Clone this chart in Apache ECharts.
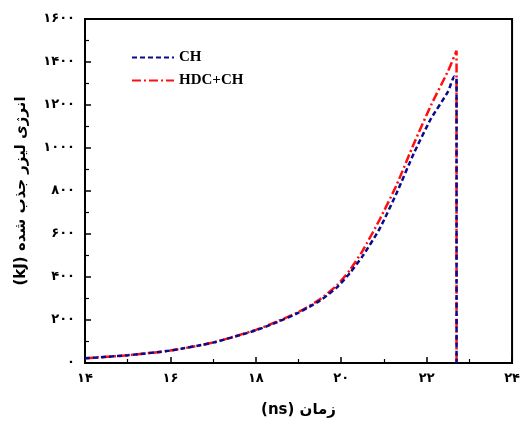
<!DOCTYPE html>
<html><head><meta charset="utf-8">
<script src="https://cdn.jsdelivr.net/npm/echarts@6/dist/echarts.min.js"></script>
<style>html,body{margin:0;padding:0;background:#fff}#c{width:523px;height:428px}</style>
</head><body><div id="c"></div>
<script>
const seriesNames = ['CH', 'HDC+CH'];
const timeCH = [14, 15, 16, 17, 18, 18.5, 19, 19.5, 19.9, 20.2, 20.5, 20.9, 21.3, 21.7, 22.1, 22.5, 22.65, 22.7, 22.7];
const energyCH = [22, 36, 58, 95, 152, 190, 234, 290, 352, 418, 497, 625, 792, 975, 1136, 1262, 1333, 1322, 0];
const timeHDC = [14, 15, 16, 17, 18, 18.5, 19, 19.5, 19.9, 20.2, 20.5, 20.9, 21.3, 21.7, 22.1, 22.5, 22.7, 22.7];
const energyHDC = [22, 36, 58, 95, 154, 193, 237, 296, 362, 432, 522, 667, 830, 1020, 1198, 1358, 1452, 0];
const xTickLabels = {14:'۱۴', 16:'۱۶', 18:'۱۸', 20:'۲۰', 22:'۲۲', 24:'۲۴'};
const yTickLabels = {0:'۰', 200:'۲۰۰', 400:'۴۰۰', 600:'۶۰۰', 800:'۸۰۰', 1000:'۱۰۰۰', 1200:'۱۲۰۰', 1400:'۱۴۰۰', 1600:'۱۶۰۰'};
const xTitle = 'زمان (ns)';
const yTitle = 'انرژی لیزر جذب شده (kJ)';
const rtl = s => '\u202B' + s + '\u202C';

const zip = (a, b) => a.map((v, i) => [v, b[i]]);
const chart = echarts.init(document.getElementById('c'));
const axisCommon = {
  axisLine: {show: true, lineStyle: {color: '#000', width: 2}},
  axisTick: {inside: true, length: 6, lineStyle: {color: '#000', width: 1.5}},
  minorTick: {show: true, splitNumber: 2, length: 4, lineStyle: {color: '#000', width: 1.2}},
  splitLine: {show: false},
  axisLabel: {color: '#000', fontFamily: 'DejaVu Sans', fontWeight: 'bold', fontSize: 13}
};
chart.setOption({
  animation: false,
  grid: {left: 85, right: 8, top: 19, bottom: 65, show: true, borderColor: '#000', borderWidth: 2},
  legend: {
    orient: 'vertical', left: 126, top: 45, itemWidth: 42, itemHeight: 10, itemGap: 8,
    itemStyle: {opacity: 0},
    textStyle: {fontFamily: 'Liberation Serif', fontWeight: 'bold', fontSize: 15, color: '#000'},
    data: seriesNames
  },
  xAxis: Object.assign({}, axisCommon, {
    type: 'value', min: 14, max: 24, interval: 2,
    axisLabel: Object.assign({}, axisCommon.axisLabel, {margin: 9, formatter: v => xTickLabels[v] || ''}),
    name: rtl(xTitle), nameLocation: 'middle', nameGap: 40,
    nameTextStyle: {fontFamily: 'DejaVu Sans', fontWeight: 'bold', fontSize: 15, color: '#000'}
  }),
  yAxis: Object.assign({}, axisCommon, {
    type: 'value', min: 0, max: 1600, interval: 200,
    axisLabel: Object.assign({}, axisCommon.axisLabel, {margin: 10, formatter: v => yTickLabels[v] || ''}),
    name: rtl(yTitle), nameLocation: 'middle', nameGap: 56, nameRotate: 90,
    nameTextStyle: {fontFamily: 'DejaVu Sans', fontWeight: 'bold', fontSize: 15, color: '#000'}
  }),
  series: [
    {name: seriesNames[0], type: 'line', data: zip(timeCH, energyCH), symbol: 'none', smooth: 0.2, z: 3,
     itemStyle: {color: '#0a0a8a'},
     lineStyle: {color: '#0a0a8a', width: 2.5, type: [5, 3]}},
    {name: seriesNames[1], type: 'line', data: zip(timeHDC, energyHDC), symbol: 'none', smooth: 0.2, z: 2,
     itemStyle: {color: '#ff1010'},
     lineStyle: {color: '#ff1010', width: 2.5, type: [9, 3, 2, 3]}}
  ]
});
</script></body></html>
